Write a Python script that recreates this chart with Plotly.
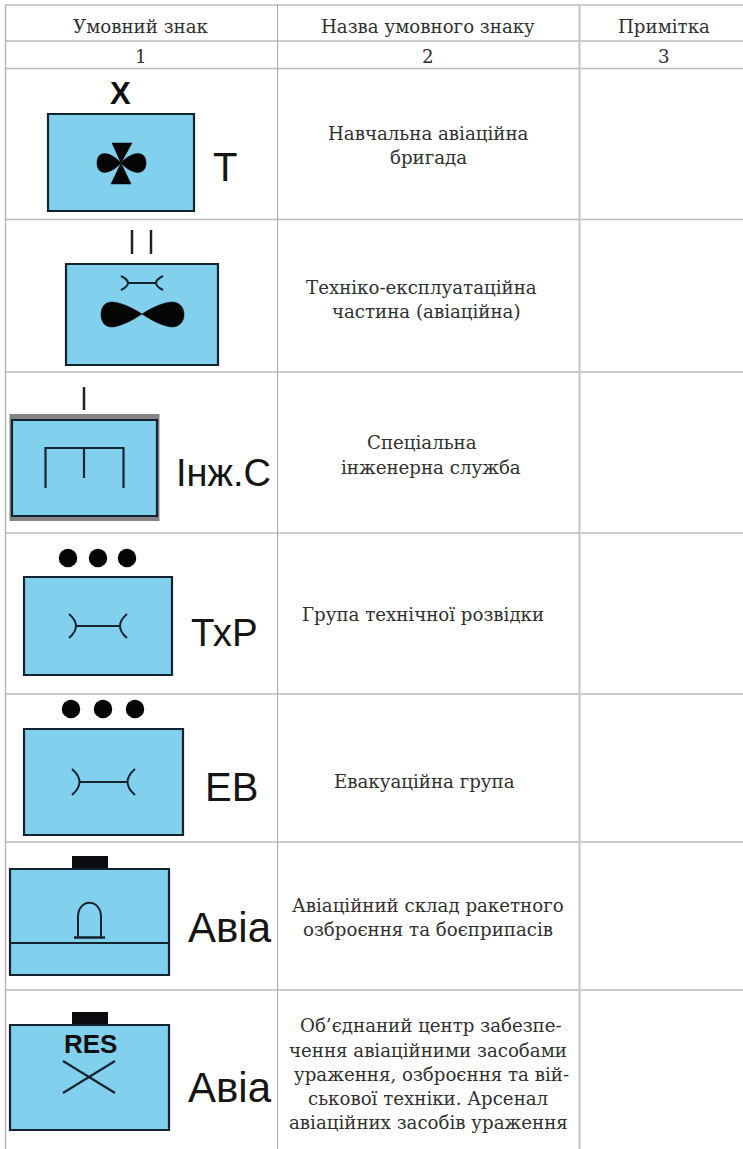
import plotly.graph_objects as go

W, H = 743, 1149
SERIF = "DejaVu Serif"
SANS = "Liberation Sans"
TXT = "#303030"
BLUE = "#80d0ee"
EDGE = "#14242e"
GRID = "#bdbdbd"

headers = ["Умовний знак", "Назва умовного знаку", "Примітка"]
column_numbers = ["1", "2", "3"]
sign_names = [
    ["Навчальна авіаційна", "бригада"],
    ["Техніко-експлуатаційна", "частина (авіаційна)"],
    ["Спеціальна", "інженерна служба"],
    ["Група технічної розвідки"],
    ["Евакуаційна група"],
    ["Авіаційний склад ракетного", "озброєння та боєприпасів"],
    ["Об’єднаний центр забезпе-", "чення авіаційними засобами", "ураження, озброєння та вій-",
     "ськової техніки. Арсенал", "авіаційних засобів ураження"],
]
sign_labels = ["Т", "", "Інж.С", "ТхР", "ЕВ", "Авіа", "Авіа"]

grid_y = [5, 41, 68.5, 219.5, 372, 533, 694, 842, 990]
grid_x = [5.5, 277.5, 579.5]
header_cx = [141, 428, 664]
header_y = 26
number_y = 56
name_cx = [[428, 428], [421, 426], [422, 431], [423], [424], [428, 428], [431, 428, 431, 428, 428]]
name_y = [[133, 157], [287, 311], [442, 467], [614], [781], [905, 929], [1025, 1050, 1074, 1098, 1122]]
label_xy = [(224.5, 167), None, (223.5, 473), (224, 632), (231, 787), (230, 927), (230, 1087)]
label_size = [40, 0, 38, 38.5, 40, 42, 42]

boxes = [(48, 114, 194, 211), (66, 264, 218, 365), (12, 420, 157, 516), (24, 577, 172, 675),
         (24, 729, 183, 835), (10, 869, 169, 975), (10, 1025, 169, 1130)]
dots_x = [68, 98, 127, 71, 103, 135]
dots_y = [558, 558, 558, 709, 709, 709]

shapes = []
ann = []


def line(x0, y0, x1, y1, color=EDGE, width=2):
    shapes.append(dict(type="line", xref="x", yref="y", x0=x0, y0=y0, x1=x1, y1=y1,
                       line=dict(color=color, width=width)))


def path(d, fill="rgba(0,0,0,0)", color=EDGE, width=2):
    shapes.append(dict(type="path", xref="x", yref="y", path=d, fillcolor=fill,
                       line=dict(color=color, width=width)))


def text(x, y, s, size, font=SERIF, color=TXT, bold=False):
    ann.append(dict(x=x, y=y, xref="x", yref="y", text=f"<b>{s}</b>" if bold else s, showarrow=False,
                    xanchor="center", yanchor="middle", font=dict(family=font, size=size, color=color)))


def wrench(cx, cy, tip, bulge, h, width=2):
    path(f"M{cx-tip},{cy-h} Q{cx-2*bulge+tip},{cy} {cx-tip},{cy+h}", width=width)
    path(f"M{cx+tip},{cy-h} Q{cx+2*bulge-tip},{cy} {cx+tip},{cy+h}", width=width)
    line(cx - bulge, cy, cx + bulge, cy, width=width)


# table grid
for y in grid_y:
    line(5, y, W, y, color=GRID, width=1.6)
line(grid_x[0], 5, grid_x[0], H, color="#b0b0b0", width=1.3)
line(grid_x[1], 5, grid_x[1], H, color="#a8a8a8", width=1)
line(grid_x[2], 5, grid_x[2], H, color="#c4c4c4", width=2)

# grey halo behind the third box
shapes.append(dict(type="rect", xref="x", yref="y", x0=9.5, y0=414, x1=159.5, y1=521,
                   fillcolor="#858585", line=dict(width=0)))
# black tabs over the two depot boxes
for y0 in (856, 1012):
    shapes.append(dict(type="rect", xref="x", yref="y", x0=72, y0=y0, x1=108, y1=y0 + 14,
                       fillcolor="#0c0c10", line=dict(width=0)))
# boxes
for x0, y0, x1, y1 in boxes:
    shapes.append(dict(type="rect", xref="x", yref="y", x0=x0, y0=y0, x1=x1, y1=y1,
                       fillcolor=BLUE, line=dict(color=EDGE, width=2.2)))

# row 1: brigade mark and propeller
text(120.5, 93, "X", 31, SANS, "#111", True)
path("M121,163 C110,151 97,150 97,163 C97,176 110,175 121,163 C132,175 146,176 146,163 C146,150 132,151 121,163 Z",
     "#050505", "#050505", 0.5)
path("M112,143 L132,143 L121,163 L131,184 L111,184 L121,163 Z", "#050505", "#050505", 0.5)

# row 2: two bars, wrench and propeller
line(132, 230, 132, 254, "#222", 2.5)
line(151, 230, 151, 254, "#222", 2.5)
wrench(142, 283, 21, 14, 7, 2)
path("M142,314 C130,306 118,302 112,302 C104,302 101,308 101,314.5 C101,321 104,327 112,327 C118,327 130,322 142,314 "
     "C154,306 166,302 172,302 C180,302 184,308 184,314.5 C184,321 180,327 172,327 C166,327 154,322 142,314 Z",
     "#050505", "#050505", 0.5)

# row 3: bar and engineering fork
line(84, 387, 84, 410, "#222", 2.5)
path("M45.5,488 L45.5,448 L123.5,448 L123.5,488", width=2.2)
line(84, 448, 84, 478, width=2.2)

# rows 4, 5: wrench
wrench(98, 626, 29, 22, 12, 2)
wrench(103.5, 782, 31.5, 24, 13, 2)

# row 6: arch and divider
line(10, 943, 169, 943, width=2)
path("M78,937 L78,917 C78,898 101,898 101,917 L101,937", width=2)
line(74, 937.5, 105, 937.5, width=2.5)

# row 7: RES cross
text(90, 1044, "RES", 26, SANS, "#111", True)
line(63, 1061, 115, 1093, width=2.2)
line(115, 1061, 63, 1093, width=2.2)

# table text
for h, n, cx in zip(headers, column_numbers, header_cx):
    text(cx, header_y, h, 18.2)
    text(cx, number_y, n, 18.2)
for lines, cxs, ys in zip(sign_names, name_cx, name_y):
    for s, cx, y in zip(lines, cxs, ys):
        text(cx, y, s, 18.2)
for s, xy, size in zip(sign_labels, label_xy, label_size):
    if s:
        text(xy[0], xy[1], s, size, SANS, "#151515")

fig = go.Figure(go.Scatter(x=dots_x, y=dots_y, mode="markers", hoverinfo="skip",
                           marker=dict(color="#050505", size=18.5, line=dict(width=0))))
fig.update_layout(
    width=W, height=H, margin=dict(l=0, r=0, t=0, b=0), showlegend=False,
    paper_bgcolor="white", plot_bgcolor="white", shapes=shapes, annotations=ann,
    xaxis=dict(range=[0, W], visible=False, fixedrange=True),
    yaxis=dict(range=[H, 0], visible=False, fixedrange=True),
)
fig.write_html("out.html", config=dict(displayModeBar=False),
               post_script="document.body.style.margin='0';document.documentElement.style.overflow='hidden';")
